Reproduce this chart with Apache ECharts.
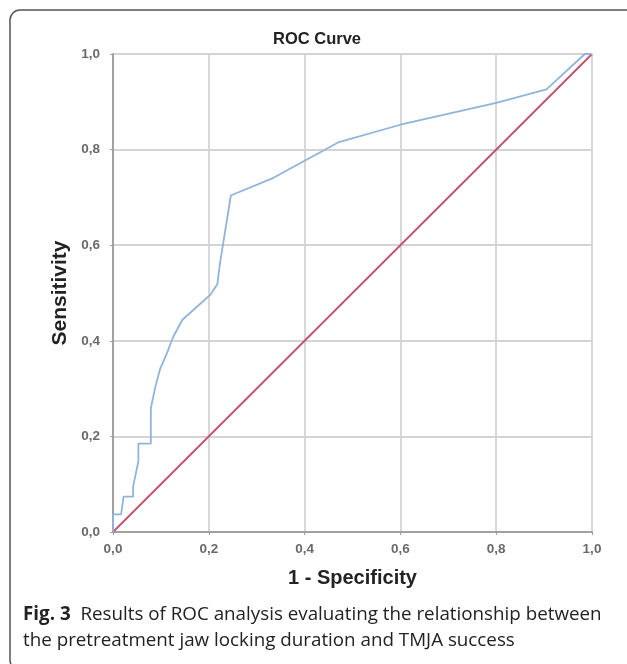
<!DOCTYPE html>
<html>
<head>
<meta charset="utf-8">
<script src="https://cdn.jsdelivr.net/npm/echarts@6/dist/echarts.min.js"></script>
<style>
  html, body { margin: 0; padding: 0; background: #ffffff; }
  #chart { width: 627px; height: 664px; }
</style>
</head>
<body>
<div id="chart"></div>
<script>
// ROC curve: 1 - specificity (x) against sensitivity (y)
const fpr = [0, 0, 0.017, 0.022, 0.042, 0.042, 0.053, 0.053, 0.079, 0.079, 0.088, 0.098, 0.111, 0.126, 0.145, 0.203, 0.218, 0.223, 0.246, 0.335, 0.470, 0.600, 0.800, 0.905, 0.985, 1.0];
const tpr = [0, 0.037, 0.037, 0.074, 0.074, 0.095, 0.148, 0.185, 0.185, 0.259, 0.302, 0.340, 0.370, 0.409, 0.444, 0.496, 0.519, 0.560, 0.704, 0.741, 0.815, 0.852, 0.898, 0.926, 1.0, 1.0];

// reference (chance) line
const refX = [0, 1];
const refY = [0, 1];

// axis tick labels, decimal comma
const tickValues = [0, 0.2, 0.4, 0.6, 0.8, 1.0];
const tickLabels = ['0,0', '0,2', '0,4', '0,6', '0,8', '1,0'];

const chartTitle = 'ROC Curve';
const xTitle = '1 - Specificity';
const yTitle = 'Sensitivity';
const captionBold = 'Fig. 3';
const captionLine1 = 'Results of ROC analysis evaluating the relationship between';
const captionLine2 = 'the pretreatment jaw locking duration and TMJA success';

function tickLabel(v) {
  const i = tickValues.findIndex(t => Math.abs(t - v) < 1e-6);
  return i >= 0 ? tickLabels[i] : '';
}

const chart = echarts.init(document.getElementById('chart'), null, { renderer: 'canvas' });

const sansFont = 'Liberation Sans, Arial, sans-serif';
const captionFont = 'Open Sans, Noto Sans, sans-serif';

const axisCommon = {
  type: 'value',
  min: 0,
  max: 1,
  interval: 0.2,
  axisLine: { show: true, lineStyle: { color: '#a0a0a0', width: 2 } },
  axisTick: { show: true, length: 3, lineStyle: { color: '#a0a0a0', width: 1 } },
  splitLine: { show: true, lineStyle: { color: '#d4d4d4', width: 1.8 } },
  axisLabel: {
    formatter: tickLabel,
    color: '#6a6a6a',
    fontFamily: sansFont,
    fontWeight: 'bold',
    fontSize: 13.5
  }
};

chart.setOption({
  animation: false,
  backgroundColor: '#ffffff',
  title: {
    text: chartTitle,
    left: 312,
    top: 26,
    textAlign: 'center',
    textStyle: {
      fontFamily: sansFont,
      fontWeight: 'bold',
      fontSize: 16.5,
      color: '#222222'
    }
  },
  grid: { left: 113, right: 35, top: 54, bottom: 132, containLabel: false },
  xAxis: Object.assign({}, axisCommon, {
    axisLabel: Object.assign({}, axisCommon.axisLabel, { margin: 10 }),
    name: xTitle,
    nameLocation: 'middle',
    nameGap: 36,
    nameTextStyle: {
      fontFamily: sansFont,
      fontWeight: 'bold',
      fontSize: 20,
      color: '#222222'
    }
  }),
  yAxis: Object.assign({}, axisCommon, {
    axisLabel: Object.assign({}, axisCommon.axisLabel, { margin: 13 }),
    name: yTitle,
    nameLocation: 'middle',
    nameGap: 41,
    nameTextStyle: {
      fontFamily: sansFont,
      fontWeight: 'bold',
      fontSize: 21,
      color: '#222222'
    }
  }),
  series: [
    {
      type: 'line',
      data: refX.map((x, i) => [x, refY[i]]),
      showSymbol: false,
      lineStyle: { color: '#c4506c', width: 1.8 },
      z: 3
    },
    {
      type: 'line',
      data: fpr.map((x, i) => [x, tpr[i]]),
      showSymbol: false,
      lineStyle: { color: '#90b4da', width: 1.8 },
      z: 4
    }
  ],
  graphic: [
    {
      type: 'rect',
      shape: { x: 10, y: 10, width: 660, height: 660, r: 10 },
      style: { fill: 'none', stroke: '#555555', lineWidth: 1.5 },
      silent: true
    },
    {
      type: 'text',
      left: 23,
      top: 605,
      style: {
        rich: {
          b: { fontFamily: captionFont, fontWeight: 'bold', fontSize: 18.8, fill: '#222222' },
          n: { fontFamily: captionFont, fontSize: 18.8, fill: '#222222' }
        },
        text: '{b|' + captionBold + '}{n|  ' + captionLine1 + '}'
      }
    },
    {
      type: 'text',
      left: 23,
      top: 631,
      style: {
        text: captionLine2,
        fontFamily: captionFont,
        fontSize: 18.8,
        fill: '#222222'
      }
    }
  ]
});
</script>
</body>
</html>
